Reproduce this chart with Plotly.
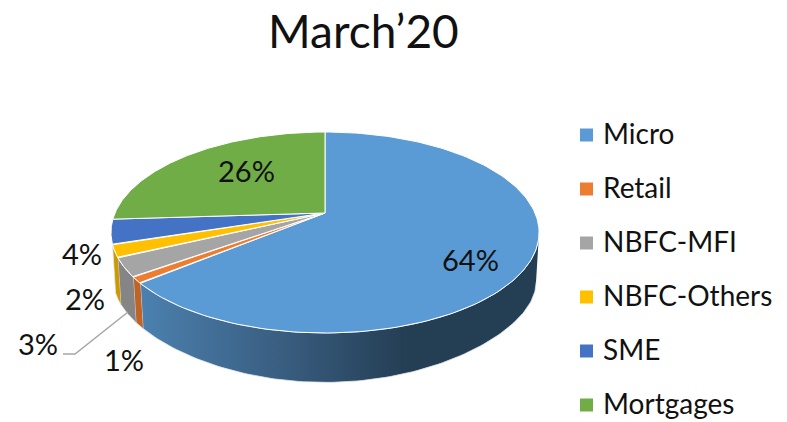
import numpy as np
import plotly.graph_objects as go

categories = ["Micro", "Retail", "NBFC-MFI", "NBFC-Others", "SME", "Mortgages"]
values = [64, 1, 3, 2, 4, 26]
colors = ["#5B9BD5", "#ED7D31", "#A5A5A5", "#FFC000", "#4472C4", "#70AD47"]
wall_colors = ["#3D6A93", "#BF6427", "#858585", "#CC9A00", "#36599C", "#5A8A39"]

# where the percent labels sit, in page pixels
label_x = [470, 124, 38, 85, 82, 246]
label_y = [259, 359, 343, 298, 253, 170]
legend_y = [135, 189, 243, 297, 351, 405]

# tilted disc, front of the pie nearer to the viewer
CX, CY = 325, 213
A, B, K = 210, 96.7, 0.194
# rim at the bottom of the wall
A2, B2, K2, CY2 = 207, 75, 0.35, 267


def top_rim(deg):
    t = np.radians(deg)
    u, v = np.sin(t), -np.cos(t)
    return CX + A * u / (1 - K * v), CY + B * v / (1 - K * v)


def bottom_rim(deg):
    t = np.radians(deg)
    u, v = np.sin(t), -np.cos(t)
    return CX + A2 * u / (1 - K * v), CY2 + B2 * v / (1 - K2 * v)


edges = np.concatenate([[0], np.cumsum(values)]) * 3.6

fig = go.Figure()

# side walls first, only the parts facing the viewer
for i in range(4):
    start = max(edges[i], 101)
    angles = np.linspace(start, edges[i + 1], 120)
    tx, ty = top_rim(angles)
    bx, by = bottom_rim(angles[::-1])
    trace = dict(
        x=np.concatenate([tx, bx]),
        y=np.concatenate([ty, by]),
        mode="lines",
        fill="toself",
        line=dict(color="#dfe6ee", width=0.8),
        hoverinfo="skip",
        showlegend=False,
    )
    if i == 0:
        trace["fillgradient"] = dict(
            type="horizontal",
            colorscale=[[0, "#4B80AE"], [0.55, "#385C7E"], [1, "#243E54"]],
            start=143,
            stop=407,
        )
    else:
        trace["fillcolor"] = wall_colors[i]
    fig.add_trace(go.Scatter(**trace))

# top face
for i, name in enumerate(categories):
    angles = np.linspace(edges[i], edges[i + 1], 160)
    tx, ty = top_rim(angles)
    fig.add_trace(go.Scatter(
        x=np.concatenate([[CX], tx, [CX]]),
        y=np.concatenate([[CY], ty, [CY]]),
        mode="lines",
        fill="toself",
        fillcolor=colors[i],
        line=dict(color="#ffffff", width=1),
        name=name,
        hoverinfo="name",
        showlegend=False,
    ))

# legend squares
fig.add_trace(go.Scatter(
    x=[586.5] * len(categories),
    y=legend_y,
    mode="markers",
    marker=dict(symbol="square", size=13, color=colors),
    hoverinfo="skip",
    showlegend=False,
))

for name, y in zip(categories, legend_y):
    fig.add_annotation(x=601, y=y - 2, text=name, showarrow=False, xanchor="left",
                       font=dict(size=28, color="#111111"))

for v, x, y in zip(values, label_x, label_y):
    fig.add_annotation(x=x, y=y, text=f"{v}%", showarrow=False,
                       font=dict(size=29, color="#111111"))

fig.add_annotation(x=363, y=30, text="March’20", showarrow=False,
                   font=dict(size=46, color="#111111"))

# leader line of the 3% label
fig.add_shape(type="path", path="M 63 354 L 75 354 L 128 312",
              line=dict(color="#A6A6A6", width=1.5))

fig.update_layout(
    width=787,
    height=422,
    margin=dict(l=0, r=0, t=0, b=0),
    paper_bgcolor="white",
    plot_bgcolor="white",
    font=dict(family="Lato"),
    xaxis=dict(range=[0, 787], visible=False, fixedrange=True),
    yaxis=dict(range=[422, 0], visible=False, fixedrange=True),
)

# drop the default body margin so axis units are window pixels
fig.write_html("out.html", config=dict(displayModeBar=False),
               post_script="document.body.style.margin = '0';")
